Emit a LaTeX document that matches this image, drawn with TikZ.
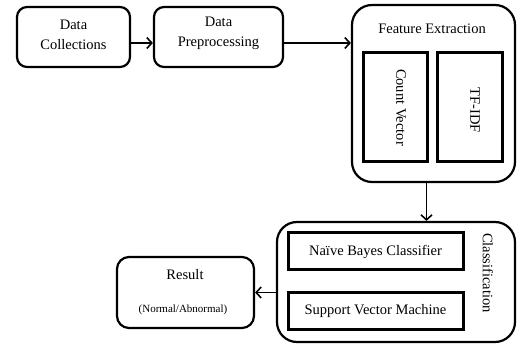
\documentclass[tikz,border=0pt]{standalone}
\usepackage{fontspec}
\setmainfont{Liberation Serif}
\usetikzlibrary{arrows.meta}
\begin{document}
\begin{tikzpicture}[x=1pt,y=-1pt,
  rbox/.style={draw,line width=2.2pt,rounded corners=10pt,inner sep=0pt},
  outer/.style={draw,line width=2.2pt,rounded corners=20pt,inner sep=0pt},
  inbox/.style={draw,line width=3pt,inner sep=0pt,align=center,font=\fontsize{14.5}{17}\selectfont},
  arr/.style={line width=1.6pt,-{Straight Barb[length=5pt,width=11pt,line width=1.6pt]}},
  lbl/.style={inner sep=0pt,align=center,font=\fontsize{14.5}{20}\selectfont}]
\useasboundingbox[fill=white] (0,0) rectangle (520,347);
% top row
\node[rbox,minimum width=113pt,minimum height=60pt] (dc) at (73.5,37) {};
\node[lbl] (dct) at (73.5,35) {Data\\Collections};
\node[rbox,minimum width=129pt,minimum height=60pt] (dp) at (218.5,37) {};
\node[lbl] (dpt) at (218.5,33) {Data\\Preprocessing};
% feature extraction
\node[outer,minimum width=163pt,minimum height=177pt] (fe) at (433.5,93.5) {};
\node[lbl] (fet) at (432,29) {Feature Extraction};
\node[inbox,minimum width=64pt,minimum height=109pt] (cv) at (395,107.5) {};
\node[lbl,rotate=-90] (cvt) at (401,107.5) {Count Vector};
\node[inbox,minimum width=65pt,minimum height=109pt] (tf) at (469.5,107.5) {};
\node[lbl,rotate=-90] (tft) at (475,110) {TF-IDF};
% classification
\node[outer,minimum width=238pt,minimum height=120pt] (cl) at (396,282) {};
\node[inbox,minimum width=175pt,minimum height=37pt] (nb) at (375.5,251.5) {Naïve Bayes Classifier};
\node[inbox,minimum width=175pt,minimum height=37pt] (svm) at (375.5,311.5) {Support Vector Machine};
\node[lbl,rotate=-90] (clt) at (488,273) {Classification};
% result
\node[rbox,rounded corners=12pt,minimum width=137pt,minimum height=71pt] (res) at (185.5,292.5) {};
\node[lbl] (rest) at (185,275) {Result};
\node[inner sep=0pt,font=\fontsize{11}{13}\selectfont] (resn) at (183,310) {(Normal/Abnormal)};
% connectors
\draw[arr] ([yshift=-6pt]dc.east) -- ([yshift=-6pt]dp.west);
\draw[arr] ([yshift=-6pt]dp.east) -- ([yshift=-6pt]dp.east -| fe.west);
\draw[arr] ([xshift=-7pt]fe.south) -- ([xshift=-7pt]fe.south |- cl.north);
\draw[arr] (cl.west |- res.east) -- (res.east);
\end{tikzpicture}
\end{document}
